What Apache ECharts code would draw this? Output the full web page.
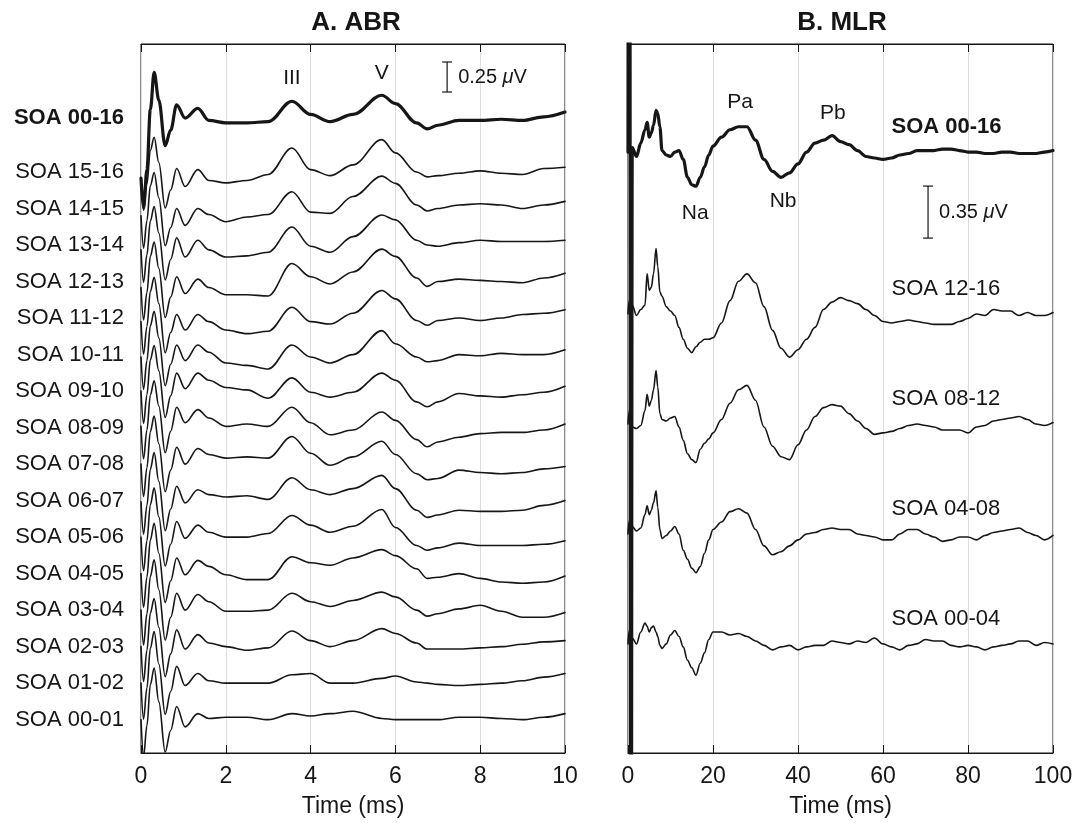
<!DOCTYPE html>
<html><head><meta charset="utf-8">
<script src="https://cdn.jsdelivr.net/npm/echarts@6.0.0/dist/echarts.min.js"></script>
<style>html,body{margin:0;padding:0;background:#fff}#c{width:1073px;height:823px}</style>
</head><body><div id="c"></div>
<script>
// ---------------- ABR (panel A) ----------------
const abrTime = [0, 0.06, 0.14, 0.22, 0.31, 0.42, 0.57, 0.7, 0.84, 1.04, 1.34, 1.6, 2.0, 2.5, 3.0, 3.56, 4.0, 4.46, 5.0, 5.68, 6.0, 6.5, 6.75, 7.0, 7.5, 8.0, 8.5, 9.0, 9.5, 10.0];
const abrTicks = [0, 2, 4, 6, 8, 10];
const abrNames = ['SOA 00-16','SOA 15-16','SOA 14-15','SOA 13-14','SOA 12-13','SOA 11-12','SOA 10-11','SOA 09-10','SOA 08-09','SOA 07-08','SOA 06-07','SOA 05-06','SOA 04-05','SOA 03-04','SOA 02-03','SOA 01-02','SOA 00-01'];
// amplitudes in microvolts, relative to each trace's own baseline
const abr_00_16 = [-0.50,-0.75,-0.43,0.07,0.38,0.15,-0.23,-0.10, 0.11,0.00,0.08,-0.02,-0.04,-0.04,-0.03,0.14,0.03,-0.03,0.03,0.19,0.12,-0.04,-0.09,-0.06,-0.02,-0.02,-0.01,-0.02,0.01,0.05];
const abr_15_16 = [-0.05,-0.32,-0.10,0.18,0.29,0.08,-0.30,-0.15, 0.03,-0.12,0.02,-0.07,-0.09,-0.07,-0.02,0.20,0.02,-0.03,0.06,0.27,0.16,0.00,-0.04,-0.03,-0.01,0.01,-0.01,-0.02,0.03,0.04];
const abr_14_15 = [-0.06,-0.33,-0.10,0.19,0.30,0.09,-0.31,-0.16, 0.00,-0.14,0.00,-0.05,-0.11,-0.07,-0.05,0.14,-0.03,-0.04,0.10,0.27,0.21,0.03,-0.02,0.00,0.03,0.04,0.03,0.00,0.03,0.06];
const abr_13_14 = [-0.04,-0.31,-0.08,0.20,0.32,0.10,-0.29,-0.12, 0.06,-0.10,0.04,-0.04,-0.10,-0.09,-0.06,0.15,-0.01,-0.06,0.07,0.25,0.21,0.04,0.00,-0.01,0.02,0.04,0.03,0.03,0.03,0.04];
const abr_12_13 = [-0.05,-0.32,-0.09,0.21,0.33,0.11,-0.30,-0.13, 0.04,-0.10,0.02,-0.05,-0.11,-0.11,-0.12,0.15,0.04,-0.02,0.08,0.27,0.21,0.03,-0.04,0.00,0.02,0.01,0.00,-0.01,0.03,0.07];
const abr_11_12 = [-0.03,-0.30,-0.07,0.22,0.34,0.12,-0.29,-0.12, 0.03,-0.10,0.03,-0.03,-0.10,-0.13,-0.11,0.09,-0.03,-0.05,0.04,0.23,0.16,-0.02,-0.06,-0.02,0.00,-0.02,0.00,0.03,0.04,0.07];
const abr_10_11 = [-0.02,-0.29,-0.05,0.24,0.36,0.14,-0.26,-0.08, 0.08,-0.05,0.08,0.02,-0.07,-0.09,-0.12,0.08,-0.02,-0.07,0.00,0.20,0.09,-0.02,-0.06,-0.05,0.00,-0.01,0.01,0.00,0.00,0.04];
const abr_09_10 = [0.00,-0.27,-0.03,0.26,0.38,0.17,-0.22,-0.04, 0.15,0.02,0.15,0.09,0.03,0.01,-0.06,0.11,-0.01,-0.05,-0.01,0.15,0.09,-0.09,-0.13,-0.09,-0.02,-0.04,-0.05,-0.03,-0.01,0.04];
const abr_08_09 = [0.01,-0.26,-0.02,0.27,0.39,0.18,-0.21,-0.03, 0.17,0.04,0.15,0.08,0.01,0.03,0.01,0.17,0.04,-0.06,-0.02,0.13,0.06,-0.10,-0.16,-0.12,-0.08,-0.05,-0.04,-0.04,-0.02,0.03];
const abr_07_08 = [0.00,-0.27,-0.03,0.27,0.40,0.17,-0.23,-0.05, 0.14,0.00,0.13,0.08,0.05,0.06,0.05,0.23,0.09,-0.01,0.06,0.19,0.08,-0.08,-0.13,-0.12,-0.05,-0.07,-0.08,-0.07,-0.04,-0.02];
const abr_06_07 = [-0.01,-0.28,-0.04,0.26,0.40,0.16,-0.25,-0.07, 0.12,-0.02,0.09,0.05,0.03,0.04,0.01,0.19,0.09,0.05,0.10,0.21,0.10,-0.08,-0.14,-0.12,-0.08,-0.09,-0.09,-0.08,-0.04,0.00];
const abr_05_06 = [0.00,-0.28,-0.03,0.27,0.41,0.17,-0.24,-0.06, 0.13,-0.01,0.10,0.04,0.00,0.00,0.03,0.18,0.10,0.04,0.09,0.23,0.08,-0.07,-0.11,-0.09,-0.05,-0.07,-0.07,-0.07,-0.06,-0.03];
const abr_04_05 = [0.00,-0.28,-0.03,0.28,0.42,0.17,-0.24,-0.06, 0.13,-0.01,0.11,0.06,-0.01,-0.05,-0.05,0.14,0.09,0.07,0.13,0.20,0.15,0.04,-0.04,-0.03,0.00,-0.04,-0.07,-0.08,-0.07,-0.02];
const abr_03_04 = [0.00,-0.29,-0.03,0.28,0.42,0.17,-0.25,-0.06, 0.14,0.00,0.13,0.07,-0.01,-0.01,0.00,0.14,0.07,0.03,0.08,0.15,0.11,0.00,-0.05,-0.03,0.01,0.04,-0.01,-0.06,-0.06,-0.02];
const abr_02_03 = [0.00,-0.29,-0.03,0.28,0.40,0.16,-0.25,-0.06, 0.14,-0.02,0.10,0.03,0.00,-0.03,-0.01,0.13,0.05,0.00,0.05,0.15,0.11,0.03,-0.02,-0.02,-0.02,-0.01,0.00,0.02,0.04,0.05];
const abr_01_02 = [0.00,-0.30,-0.04,0.29,0.43,0.16,-0.26,-0.07, 0.14,-0.02,0.08,0.02,0.00,0.00,0.00,0.07,0.08,0.00,0.00,0.04,0.06,0.01,0.00,-0.01,-0.02,-0.01,0.00,0.02,0.05,0.08];
const abr_00_01 = [0.00,-0.31,-0.05,0.29,0.43,0.15,-0.27,-0.09, 0.11,-0.06,0.05,0.01,0.02,0.02,0.00,0.05,0.03,0.05,0.07,0.01,0.00,0.00,0.00,0.00,0.02,0.02,0.01,0.00,0.02,0.05];
const abrTraces = [abr_00_16,abr_15_16,abr_14_15,abr_13_14,abr_12_13,abr_11_12,abr_10_11,abr_09_10,abr_08_09,abr_07_08,abr_06_07,abr_05_06,abr_04_05,abr_03_04,abr_02_03,abr_01_02,abr_00_01];
const abrPeakNames = ['III', 'V'];
const abrPeakTimes = [3.56, 5.68];
const abrPeakLevels = [-0.283, -0.242];
const abrScale = [7.22, -0.15, 0.25]; // time, top level, length (µV)

// ---------------- MLR (panel B) ----------------
const mlrTime = [0,0.3,0.7,1,2,3,4,4.5,5,5.5,6,6.6,7,7.5,8,9,10,11,12,13,14,15,16,17,18,19,20,22,24,26,28,30,32,34,36,38,40,42,44,46,48,50,52,54,56,58,60,62,64,66,68,70,72,74,76,78,80,82,84,86,88,90,92,94,96,98,100];
const mlrTicks = [0, 20, 40, 60, 80, 100];
const mlrNames = ['SOA 00-16','SOA 12-16','SOA 08-12','SOA 04-08','SOA 00-04'];
const mlr_00_16 = [0,8,-8,0.03,-0.03,0.06,0.15,0.20,0.10,0.13,0.18,0.28,0.26,0.17,0.01,-0.02,-0.03,0.00,0.01,-0.05,-0.17,-0.22,-0.23,-0.17,-0.10,-0.02,0.04,
  0.10,0.15,0.17,0.17,0.08,-0.05,-0.13,-0.17,-0.14,-0.08,0.00,0.06,0.08,0.11,0.07,0.05,0.01,-0.03,-0.04,-0.05,-0.04,-0.02,-0.01,0.01,0.01,0.01,0.02,0.02,0.01,0.00,0.00,-0.01,-0.01,0.00,0.00,-0.01,-0.01,-0.01,0.00,0.01];
const mlr_12_16 = [0,0.09,-0.04,0.06,-0.01,0.03,0.06,0.27,0.16,0.18,0.27,0.44,0.32,0.15,0.12,0.05,0.02,-0.01,-0.09,-0.17,-0.23,-0.26,-0.22,-0.19,-0.17,-0.17,-0.16,
  -0.06,0.09,0.22,0.27,0.21,0.05,-0.11,-0.23,-0.29,-0.24,-0.17,-0.09,0.03,0.08,0.11,0.09,0.07,0.03,-0.01,-0.05,-0.06,-0.05,-0.04,-0.05,-0.06,-0.07,-0.07,-0.07,-0.05,-0.03,0.00,-0.01,0.03,0.02,0.02,-0.01,0.01,-0.01,-0.01,0.01];
const mlr_08_12 = [0,0.09,-0.04,-0.02,-0.03,-0.01,0.09,0.20,0.12,0.16,0.23,0.36,0.25,0.07,0.03,0.02,0.04,0.05,-0.02,-0.11,-0.20,-0.24,-0.26,-0.17,-0.13,-0.10,-0.06,
  0.03,0.14,0.23,0.26,0.16,-0.02,-0.15,-0.22,-0.24,-0.14,-0.04,0.05,0.11,0.13,0.12,0.07,0.02,-0.03,-0.07,-0.06,-0.05,-0.03,-0.01,0.00,-0.01,-0.02,-0.04,-0.04,-0.04,-0.06,-0.02,-0.01,0.02,0.03,0.04,0.05,0.03,0.00,-0.01,0.01];
const mlr_04_08 = [0,0.09,-0.04,0.05,0.02,0.04,0.13,0.19,0.13,0.16,0.21,0.29,0.18,0.03,-0.03,-0.01,0.02,0.05,0.00,-0.11,-0.17,-0.23,-0.26,-0.22,-0.13,-0.04,0.03,
  0.08,0.15,0.17,0.14,0.03,-0.08,-0.14,-0.12,-0.08,-0.04,0.00,0.01,0.03,0.04,0.03,0.03,0.00,-0.01,-0.02,-0.04,-0.04,0.00,0.03,0.03,0.00,-0.02,-0.05,-0.04,-0.02,-0.02,-0.04,-0.01,0.01,0.02,0.03,0.04,0.01,-0.01,-0.04,-0.01];
const mlr_00_04 = [0,0.09,-0.04,0.04,0.00,0.08,0.14,0.12,0.08,0.11,0.12,0.08,0.05,-0.01,-0.03,0.00,0.06,0.09,0.05,-0.02,-0.11,-0.16,-0.21,-0.13,-0.06,0.03,0.08,
  0.08,0.06,0.07,0.05,0.02,-0.01,-0.04,-0.02,-0.01,-0.04,-0.02,-0.01,-0.01,0.02,0.01,0.00,0.02,0.01,0.04,0.00,-0.02,-0.04,-0.01,0.00,0.03,0.02,0.02,-0.01,-0.02,-0.01,-0.02,-0.04,-0.02,-0.01,0.00,0.02,0.02,-0.01,0.01,0.00];
const mlrTraces = [mlr_00_16, mlr_12_16, mlr_08_12, mlr_04_08, mlr_00_04];
const mlrPeakNames = ['Na', 'Pa', 'Nb', 'Pb'];
const mlrPeakTimes = [15.8, 26.4, 36.5, 48.2];
const mlrPeakLevels = [-1.137, -0.390, -1.057, -0.464];
const mlrScale = [70.6, -0.956, 0.35];

// ---------------- layout constants (stacking of traces) ----------------
const ABR_RANGE = 5.908, MLR_RANGE = 4.771;
const abrLevel = i => i === 0 ? -0.617 : -1.067 - 0.3042 * (i - 1);
const mlrLevel = i => i === 0 ? -0.727 : -1.817 - 0.740 * (i - 1);
const MLR_LABEL_T = 62, MLR_LABEL_LIFT = 0.168;

const FONT = "'Liberation Sans', Arial, Helvetica, sans-serif";
const INK = '#161616';

function traceSeries(times, traces, level, xi, yi) {
  return traces.map((vals, i) => ({
    type: 'line', xAxisIndex: xi, yAxisIndex: yi,
    data: times.map((t, j) => [t, vals[j] + level(i)]),
    showSymbol: false, symbol: 'none', smooth: 0.35, smoothMonotone: 'x',
    lineStyle: { color: INK, width: i === 0 ? 3.2 : 1.6, join: 'round', cap: 'round', opacity: 1 },
    silent: true, z: i === 0 ? 4 : 3
  }));
}

function scaleBarSeries(bar, xi, yi) {
  return {
    type: 'custom', xAxisIndex: xi, yAxisIndex: yi, silent: true, z: 5, clip: false,
    data: [bar],
    renderItem: (params, api) => {
      const t = api.value(0), top = api.value(1), len = api.value(2);
      const p1 = api.coord([t, top]), p2 = api.coord([t, top - len]);
      const cap = 5, st = { stroke: INK, lineWidth: 1.2 };
      return { type: 'group', children: [
        { type: 'line', shape: { x1: p1[0], y1: p1[1], x2: p2[0], y2: p2[1] }, style: st },
        { type: 'line', shape: { x1: p1[0]-cap, y1: p1[1], x2: p1[0]+cap, y2: p1[1] }, style: st },
        { type: 'line', shape: { x1: p2[0]-cap, y1: p2[1], x2: p2[0]+cap, y2: p2[1] }, style: st },
        { type: 'text', x: p1[0] + 11, y: (p1[1] + p2[1]) / 2,
          style: { text: '{n|' + len.toFixed(2) + ' }{m|μ}{n|V}', verticalAlign: 'middle', align: 'left',
            rich: { n: { fontFamily: FONT, fontSize: 20, fill: INK, color: INK },
                    m: { fontFamily: FONT, fontSize: 20, fontStyle: 'italic', fill: INK, color: INK } } } }
      ]};
    }
  };
}

function textSeries(points, xi, yi, pos, dist, size) {
  return {
    type: 'scatter', xAxisIndex: xi, yAxisIndex: yi, symbolSize: 0, silent: true, clip: false, z: 6,
    itemStyle: { opacity: 1 },
    data: points,
    label: { show: true, position: pos, distance: dist, formatter: '{b}', color: INK, opacity: 1,
             fontFamily: FONT, fontSize: size },
    emphasis: { disabled: true }
  };
}

const series = [
  ...traceSeries(abrTime, abrTraces, abrLevel, 0, 0),
  ...traceSeries(mlrTime, mlrTraces, mlrLevel, 2, 1),
  scaleBarSeries(abrScale, 0, 0),
  scaleBarSeries(mlrScale, 2, 1),
  textSeries(abrNames.map((n, i) => ({ name: n, value: [0, abrLevel(i)],
      label: { fontWeight: i === 0 ? 'bold' : 'normal' } })), 0, 0, 'left', 17, 22),
  textSeries(mlrNames.map((n, i) => ({ name: n, value: [MLR_LABEL_T, mlrLevel(i) + MLR_LABEL_LIFT],
      label: { fontWeight: i === 0 ? 'bold' : 'normal' } })), 2, 1, 'right', 0, 22),
  textSeries(abrPeakNames.map((n, i) => ({ name: n, value: [abrPeakTimes[i], abrPeakLevels[i]] })), 0, 0, 'inside', 0, 21),
  textSeries(mlrPeakNames.map((n, i) => ({ name: n, value: [mlrPeakTimes[i], mlrPeakLevels[i]] })), 2, 1, 'inside', 0, 21)
];

function bottomAxis(gi, max, ticks) {
  return {
    type: 'value', gridIndex: gi, position: 'bottom', min: 0, max: max, interval: ticks[1] - ticks[0],
    name: 'Time (ms)', nameLocation: 'middle', nameGap: 42,
    nameTextStyle: { fontFamily: FONT, fontSize: 23, color: INK },
    axisLine: { show: true, onZero: false, lineStyle: { color: INK, width: 1 } },
    axisTick: { show: true, inside: true, length: 8, lineStyle: { color: INK, width: 1 } },
    axisLabel: { show: true, margin: 12, fontFamily: FONT, fontSize: 23, color: INK },
    splitLine: { show: true, lineStyle: { color: '#dedede', width: 1 } },
    minorTick: { show: false }
  };
}
function topAxis(gi, max, ticks) {
  return {
    type: 'value', gridIndex: gi, position: 'top', min: 0, max: max, interval: ticks[1] - ticks[0],
    axisLine: { show: true, onZero: false, lineStyle: { color: INK, width: 1 } },
    axisTick: { show: true, inside: true, length: 8, lineStyle: { color: INK, width: 1 } },
    axisLabel: { show: false }, splitLine: { show: false }
  };
}
function hiddenY(gi, range) {
  return { type: 'value', gridIndex: gi, min: -range, max: 0,
    axisLine: { show: false }, axisTick: { show: false }, axisLabel: { show: false }, splitLine: { show: false } };
}

const option = {
  animation: false,
  backgroundColor: '#ffffff',
  title: [
    { text: 'A. ABR', left: 351, top: 5, textAlign: 'center',
      textStyle: { fontFamily: FONT, fontSize: 26, fontWeight: 'bold', color: INK } },
    { text: 'B. MLR', left: 837, top: 5, textAlign: 'center',
      textStyle: { fontFamily: FONT, fontSize: 26, fontWeight: 'bold', color: INK } }
  ],
  grid: [
    { left: 141, top: 44, width: 424, height: 709, show: true, borderColor: INK, borderWidth: 1, containLabel: false, outerBoundsMode: 'none' },
    { left: 628, top: 44, width: 425, height: 709, show: true, borderColor: INK, borderWidth: 1, containLabel: false, outerBoundsMode: 'none' }
  ],
  xAxis: [
    bottomAxis(0, 10, abrTicks),
    topAxis(0, 10, abrTicks),
    bottomAxis(1, 100, mlrTicks),
    topAxis(1, 100, mlrTicks)
  ],
  yAxis: [hiddenY(0, ABR_RANGE), hiddenY(1, MLR_RANGE)],
  series: series
};

const chart = echarts.init(document.getElementById('c'), null, { renderer: 'canvas' });
chart.setOption(option);
</script>
</body></html>
